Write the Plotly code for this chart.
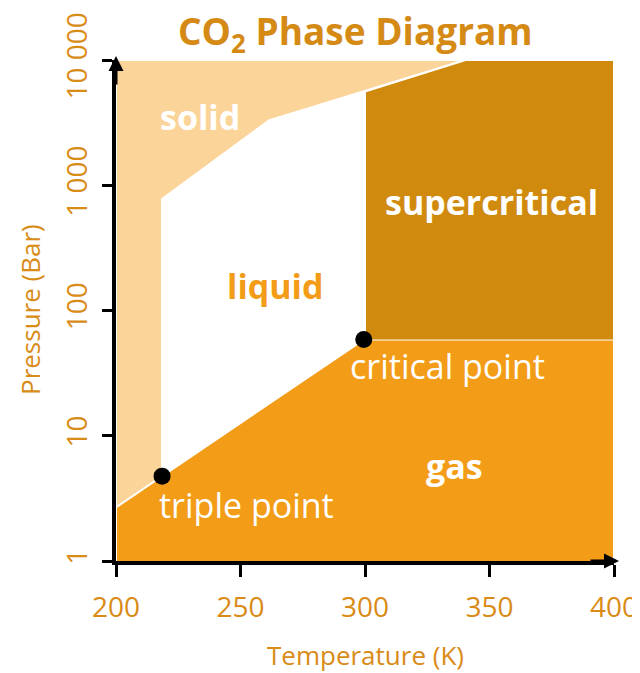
import plotly.graph_objects as go

# ---- data (temperature K, pressure bar) ----
solid_T = [200, 200, 340.4, 261.4, 218.5, 218.5]
solid_P = [2.68, 10000, 10000, 3290, 776, 4.76]

gas_T = [200, 200, 218.5, 299.5, 400, 400]
gas_P = [1, 2.68, 4.76, 58.6, 58.6, 1]

super_T = [300, 300, 340.4, 400, 400]
super_P = [58.6, 5600, 10000, 10000, 58.6]

point_T = [218.5, 299.5]
point_P = [4.76, 58.6]
point_names = ["triple point", "critical point"]

x_ticks = [200, 250, 300, 350, 400]
y_ticks = [1, 10, 100, 1000, 10000]
y_tick_text = ["1", "10", "100", "1 000", "10 000"]

C_LIGHT = "#fbd49a"
C_GAS = "#f39c17"
C_SUPER = "#d08a0e"
C_TEXT = "#d98b17"
FONT = "Open Sans"

# page offset (browser body margin)
OFF = 8
# plot area in screen pixels
SX0, SX1, SY0, SY1 = 116, 614, 60, 561
W, H = 640 - OFF, 673 - OFF
L, T = SX0 - OFF, SY0 - OFF
R, B = W - (SX1 - OFF), H - (SY1 - OFF)
PW, PH = SX1 - SX0, SY1 - SY0


def px(x):
    return (x - SX0) / PW


def py(y):
    return 1 - (y - SY0) / PH


fig = go.Figure()
fig.add_trace(go.Scatter(x=solid_T, y=solid_P, fill="toself", fillcolor=C_LIGHT,
                         mode="lines", line=dict(color="white", width=2), hoverinfo="skip"))
fig.add_trace(go.Scatter(x=gas_T, y=gas_P, fill="toself", fillcolor=C_GAS,
                         mode="lines", line=dict(color="white", width=2), hoverinfo="skip"))
fig.add_trace(go.Scatter(x=super_T, y=super_P, fill="toself", fillcolor=C_SUPER,
                         mode="lines", line=dict(color="white", width=2), hoverinfo="skip"))
fig.add_trace(go.Scatter(x=point_T, y=point_P, mode="markers",
                         marker=dict(color="black", size=17), hoverinfo="skip"))

labels = [
    dict(x=200, y=117, text="<b>solid</b>", color="white"),
    dict(x=275, y=286, text="<b>liquid</b>", color=C_GAS),
    dict(x=491, y=202, text="<b>supercritical</b>", color="white"),
    dict(x=454, y=466, text="<b>gas</b>", color="white"),
    dict(x=246, y=505, text="triple point", color="white"),
    dict(x=447, y=366, text="critical point", color="white"),
]
for lb in labels:
    fig.add_annotation(x=px(lb["x"]), y=py(lb["y"]), xref="paper", yref="paper",
                       xanchor="center", yanchor="middle",
                       text=lb["text"], showarrow=False,
                       font=dict(family=FONT, size=34, color=lb["color"]))

# title
fig.add_annotation(x=px(355), y=py(33), xref="paper", yref="paper",
                   xanchor="center", yanchor="middle",
                   text="<b>CO<sub>2</sub> Phase Diagram</b>", showarrow=False,
                   font=dict(family=FONT, size=37, color="#d48a14"))
# axis titles
fig.add_annotation(x=px(365), y=py(655), xref="paper", yref="paper",
                   xanchor="center", yanchor="middle",
                   text="Temperature (K)", showarrow=False,
                   font=dict(family=FONT, size=26, color=C_TEXT))
fig.add_annotation(x=px(30), y=py(310), xref="paper", yref="paper",
                   xanchor="center", yanchor="middle",
                   text="Pressure (Bar)", showarrow=False, textangle=-90,
                   font=dict(family=FONT, size=26, color=C_TEXT))
# arrows
fig.add_annotation(x=0, y=py(56), xref="paper", yref="paper", ax=0, ay=30, text="",
                   showarrow=True, arrowhead=2, arrowsize=1, arrowwidth=3, arrowcolor="black")
fig.add_annotation(x=px(619), y=0, xref="paper", yref="paper", ax=-30, ay=0, text="",
                   showarrow=True, arrowhead=2, arrowsize=1, arrowwidth=3, arrowcolor="black")

fig.update_xaxes(range=[200, 400], tickvals=x_ticks, ticks="outside", ticklen=12, tickwidth=3,
                 tickcolor="black", showline=True, linecolor="black", linewidth=4,
                 showgrid=False, zeroline=False, automargin=False, ticklabelstandoff=6,
                 tickfont=dict(family=FONT, size=28, color=C_TEXT))
fig.update_yaxes(type="log", range=[0, 4], tickvals=y_ticks, ticktext=y_tick_text,
                 ticks="outside", ticklen=10, tickwidth=3, tickcolor="black",
                 showline=True, linecolor="black", linewidth=4, tickangle=-90,
                 showgrid=False, zeroline=False, automargin=False, ticklabelstandoff=4,
                 tickfont=dict(family=FONT, size=28, color=C_TEXT))
fig.update_layout(width=W, height=H, margin=dict(l=L, r=R, t=T, b=B),
                  plot_bgcolor="white", paper_bgcolor="white", showlegend=False)
fig.write_html("out.html")
